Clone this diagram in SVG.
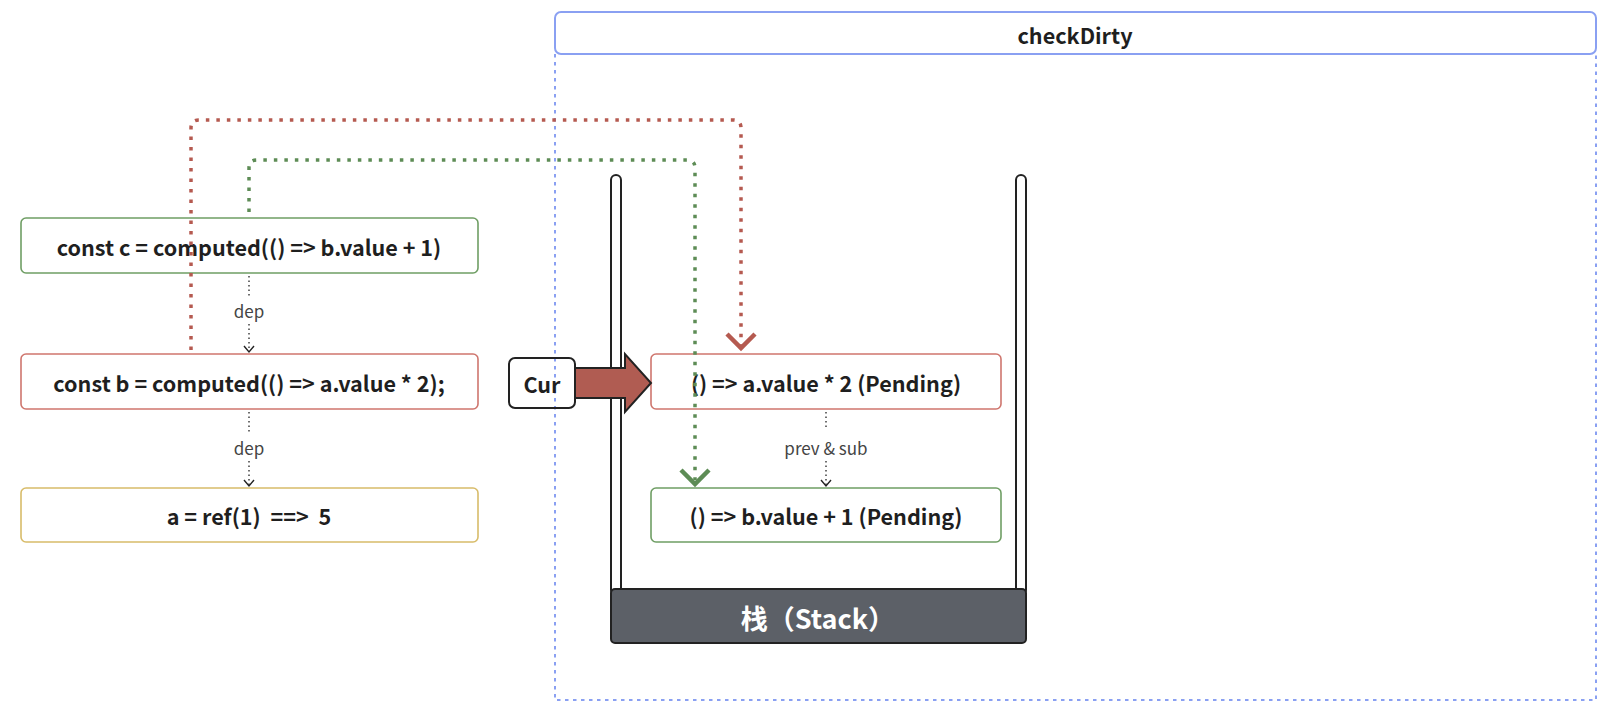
<svg xmlns="http://www.w3.org/2000/svg" width="1620" height="724" viewBox="0 0 1620 724">
<style>
text{font-family:"Noto Sans CJK SC","Noto Sans",sans-serif;}
.t{font-size:21.6px;font-weight:700;fill:#1f1f1f;text-anchor:middle;dominant-baseline:central;}
.lbl{font-size:17px;fill:#444;text-anchor:middle;dominant-baseline:central;}
.box{fill:#fff;stroke-width:1.6;}
.dep{fill:none;stroke:#333;stroke-width:1.4;stroke-dasharray:1.5 3;}
.head{fill:none;stroke:#222;stroke-width:1.4;}
.red{fill:none;stroke:#b55a50;stroke-width:3.5;stroke-dasharray:3.5 7;}
.green{fill:none;stroke:#5d8c55;stroke-width:3.5;stroke-dasharray:3.5 7;}
.wall{fill:#fff;stroke:#222;stroke-width:2;}
</style>
<g id="container">
<path d="M555,54 V700 H1596 V54" fill="none" stroke="#8aa0f2" stroke-width="2" stroke-dasharray="3.5 4.5"/>
<rect x="555" y="12" width="1041" height="42" rx="6" fill="#fff" stroke="#8aa0f2" stroke-width="2"/>
<text class="t" x="1075" y="34">checkDirty</text>
</g>
<g id="node-c">
<rect class="box" x="21" y="218" width="457" height="55" rx="5" stroke="#6f9e64"/>
<text class="t" x="249" y="246">const c = computed(() =&gt; b.value + 1)</text>
</g>
<g id="node-b">
<rect class="box" x="21" y="354" width="457" height="55" rx="5" stroke="#cf766e"/>
<text class="t" x="249" y="382">const b = computed(() =&gt; a.value * 2);</text>
</g>
<g id="node-a">
<rect class="box" x="21" y="488" width="457" height="54" rx="5" stroke="#d8bc6a"/>
<text class="t" x="249" y="515" xml:space="preserve">a = ref(1)  ==&gt;  5</text>
</g>
<g id="stack">
<rect class="wall" x="611" y="175" width="10" height="420" rx="5"/>
<rect class="wall" x="1016" y="175" width="10" height="420" rx="5"/>
<rect x="611" y="589" width="415" height="54" rx="4" fill="#5c6067" stroke="#222" stroke-width="2"/>
<text x="818" y="617" font-size="27" font-weight="700" fill="#fff" text-anchor="middle" dominant-baseline="central">栈（Stack）</text>
</g>
<g id="pending-b">
<rect class="box" x="651" y="354" width="350" height="55" rx="5" stroke="#cf766e"/>
<text class="t" x="826" y="382">() =&gt; a.value * 2 (Pending)</text>
</g>
<g id="pending-c">
<rect class="box" x="651" y="488" width="350" height="54" rx="5" stroke="#6f9e64"/>
<text class="t" x="826" y="515">() =&gt; b.value + 1 (Pending)</text>
</g>
<g id="cur">
<rect x="509" y="358" width="66" height="50" rx="6" fill="none" stroke="#222" stroke-width="2"/>
<text class="t" x="542" y="383" font-size="22.5">Cur</text>
</g>
<g id="cur-arrow">
<path d="M575,368 H625 V354 L651,383 L625,412 V398 H575 Z" fill="#b05c52" stroke="#222" stroke-width="2" stroke-linejoin="miter"/>
</g>
<g id="connectors">
<path class="dep" d="M249,276 V296"/>
<text class="lbl" x="249" y="310">dep</text>
<path class="dep" d="M249,324 V351"/>
<path class="head" d="M244,346 L249,352 L254,346"/>
<path class="dep" d="M249,412 V432"/>
<text class="lbl" x="249" y="447">dep</text>
<path class="dep" d="M249,461 V485"/>
<path class="head" d="M244,480 L249,486 L254,480"/>
<path class="dep" d="M826,412 V428"/>
<text class="lbl" x="826" y="447">prev &amp; sub</text>
<path class="dep" d="M826,461 V485"/>
<path class="head" d="M821,480 L826,486 L831,480"/>
<path class="red" d="M191,350 V128 Q191,120 199,120 H733 Q741,120 741,128 V345"/>
<path d="M727,334 L741,348 L755,334" fill="none" stroke="#b55a50" stroke-width="4.5"/>
<path class="green" d="M249,212 V168 Q249,160 257,160 H687 Q695,160 695,168 V480"/>
<path d="M681,470 L695,484 L709,470" fill="none" stroke="#5d8c55" stroke-width="4.5"/>
</g>
</svg>
